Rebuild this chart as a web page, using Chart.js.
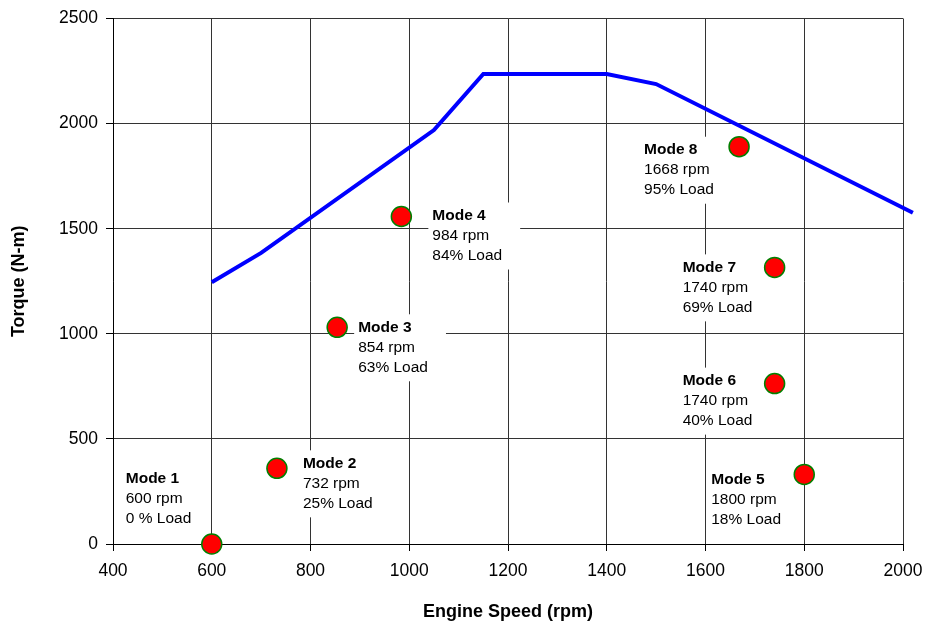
<!DOCTYPE html>
<html>
<head>
<meta charset="utf-8">
<script src="https://cdn.jsdelivr.net/npm/chart.js@4/dist/chart.umd.min.js"></script>
<style>
  body { margin: 0; background: #fff; }
</style>
</head>
<body>
<canvas id="modeChart" width="926" height="624"></canvas>
<script>
// Đường mô-men xoắn cực đại
var curveRpm = [600, 700, 1050, 1150, 1400, 1500, 2020];
var curveTorque = [1245, 1385, 1969, 2236, 2236, 2188, 1576];

// Các điểm chế độ thử
var modeNames = ['Mode 1', 'Mode 2', 'Mode 3', 'Mode 4', 'Mode 5', 'Mode 6', 'Mode 7', 'Mode 8'];
var modeRpm = [600, 732, 854, 984, 1800, 1740, 1740, 1668];
var modeTorque = [0, 360, 1031, 1558, 331, 763, 1316, 1890];
var modeLoad = ['0 % Load', '25% Load', '63% Load', '84% Load', '18% Load', '40% Load', '69% Load', '95% Load'];

// Vị trí nhãn so với điểm (dx, dy của dòng đầu)
var labelOffsets = [[-86, -65], [26, -5], [21, 0], [31, -1], [-93, 5], [-92, -3], [-92, 0], [-95, 3]];

var FONT = "'Liberation Sans', Arial, sans-serif";

var curveData = curveRpm.map(function(x, i) { return { x: x, y: curveTorque[i] }; });
var modeData = modeRpm.map(function(x, i) { return { x: x, y: modeTorque[i] }; });

// Vẽ nhãn có nền trắng
var modeLabels = {
    id: 'modeLabels',
    beforeDatasetsDraw: function(chart) {
        var ctx = chart.ctx;
        var meta = chart.getDatasetMeta(0);
        ctx.save();
        meta.data.forEach(function(pt, i) {
            var lines = [modeNames[i], modeRpm[i] + ' rpm', modeLoad[i]];
            var x = pt.x + labelOffsets[i][0];
            var y = pt.y + labelOffsets[i][1];
            var w = 0;
            ctx.font = 'bold 15.5px ' + FONT;
            w = Math.max(w, ctx.measureText(lines[0]).width);
            ctx.font = '15.5px ' + FONT;
            w = Math.max(w, ctx.measureText(lines[1]).width, ctx.measureText(lines[2]).width);
            ctx.fillStyle = '#fff';
            ctx.fillRect(x - 4, y - 13, w + 22, 40 + 27);
            ctx.fillStyle = '#000';
            ctx.textBaseline = 'middle';
            ctx.textAlign = 'left';
            lines.forEach(function(t, k) {
                ctx.font = (k === 0 ? 'bold ' : '') + '15.5px ' + FONT;
                ctx.fillText(t, x, y + k * 20);
            });
        });
        ctx.restore();
    }
};

var ctx = document.getElementById('modeChart').getContext('2d');
new Chart(ctx, {
    type: 'scatter',
    data: {
        datasets: [
            {
                label: 'Modes',
                data: modeData,
                backgroundColor: '#ff0000',
                borderColor: '#008000',
                borderWidth: 1.5,
                pointRadius: 10,
                clip: false,
                order: 0
            },
            {
                label: 'Max Torque',
                data: curveData,
                showLine: true,
                borderColor: '#0000ff',
                borderWidth: 4,
                pointRadius: 0,
                tension: 0,
                clip: false,
                order: 1
            }
        ]
    },
    options: {
        responsive: false,
        animation: false,
        layout: { padding: { left: 0, top: 17, right: 23, bottom: 0 } },
        plugins: {
            legend: { display: false },
            tooltip: { enabled: false }
        },
        scales: {
            x: {
                type: 'linear',
                min: 400,
                max: 2000,
                ticks: {
                    stepSize: 200, color: '#000', padding: 10, maxRotation: 0,
                    font: { family: FONT, size: 17.5 },
                    callback: function(v) { return String(v); }
                },
                grid: { color: '#333', tickColor: '#000', tickLength: 7 },
                border: { color: '#000', width: 1 },
                title: {
                    display: true,
                    text: 'Engine Speed (rpm)',
                    color: '#000',
                    padding: { top: 0, bottom: 1 },
                    font: { family: FONT, size: 18, weight: 'bold' }
                },
                afterFit: function(scale) {
                    scale.height = 80;
                    scale.paddingLeft = 0;
                    scale.paddingRight = 0;
                }
            },
            y: {
                min: 0,
                max: 2500,
                ticks: {
                    stepSize: 500, color: '#000', padding: 8,
                    font: { family: FONT, size: 17.5 },
                    callback: function(v) { return String(v); }
                },
                grid: { color: '#333', tickColor: '#000', tickLength: 7 },
                border: { color: '#000', width: 1 },
                title: {
                    display: true,
                    text: 'Torque (N-m)',
                    color: '#000',
                    padding: { top: 8, bottom: 0 },
                    font: { family: FONT, size: 18, weight: 'bold' }
                },
                afterFit: function(scale) { scale.width = 113; }
            }
        }
    },
    plugins: [modeLabels]
});
</script>
</body>
</html>
